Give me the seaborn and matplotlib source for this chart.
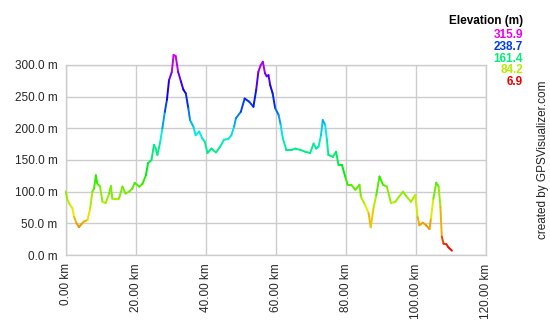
import colorsys
import numpy as np
import pandas as pd
import seaborn as sns
import matplotlib.pyplot as plt
from matplotlib.collections import LineCollection
from matplotlib.ticker import FuncFormatter

# Perfil de elevación
km = [0.0, 0.5, 1.2, 1.9, 2.4, 3.1, 3.8, 4.5, 5.2, 6.2, 7.0, 7.6, 8.1, 8.6, 9.0, 9.8,
      10.5, 11.4, 12.4, 12.9, 13.3, 14.3, 15.2, 16.2, 17.1, 18.1, 19.0, 19.7, 21.0,
      21.9, 22.9, 23.5, 24.5, 25.2, 25.7, 26.2, 27.0, 27.6, 28.3, 28.9, 29.5, 30.3,
      30.8, 31.4, 32.1, 32.9, 33.6, 34.3, 35.0, 35.5, 36.5, 37.1, 38.1, 39.0, 39.7,
      40.5, 41.6, 42.9, 44.1, 45.2, 46.4, 47.3, 48.1, 48.6, 50.0, 51.1, 52.4, 53.6,
      54.4, 55.0, 55.7, 56.3, 56.9, 57.4, 57.9, 58.4, 59.1, 59.8, 60.8, 61.4, 62.0,
      63.0, 64.6, 65.5, 67.0, 68.4, 69.8, 70.8, 71.5, 72.2, 72.9, 73.4, 74.1, 74.6,
      75.0, 76.3, 77.2, 77.9, 78.9, 79.8, 80.5, 81.5, 82.7, 83.9, 84.3, 85.5, 86.5,
      87.1, 87.9, 88.7, 89.6, 90.6, 91.7, 92.9, 94.1, 96.3, 97.4, 98.6, 99.8, 100.5,
      101.0, 102.0, 102.9, 103.9, 104.3, 105.0, 105.8, 106.5, 107.0, 107.4, 107.9,
      108.7, 109.3, 110.3]
elev = [100, 87, 79, 74, 60, 50, 44, 49, 53, 55, 74, 100, 105, 126, 113, 108,
        84, 82, 97, 109, 89, 88, 89, 108, 97, 100, 105, 114, 108,
        112, 126, 145, 150, 174, 168, 158, 179, 200, 226, 245, 276, 289,
        315.9, 314, 289, 274, 261, 255, 232, 213, 202, 189, 195, 184, 179,
        161, 168, 162, 171, 182, 183, 189, 203, 216, 226, 247, 242, 234,
        261, 289, 300, 305, 287, 282, 284, 268, 255, 232, 221, 205, 184,
        166, 166, 168, 166, 163, 161, 176, 168, 171, 189, 213, 205, 182,
        158, 155, 163, 142, 142, 124, 111, 111, 103, 111, 92, 79, 66,
        44, 74, 95, 124, 111, 108, 82, 84, 100, 92, 84, 95, 60,
        47, 51, 47, 41, 58, 89, 114, 108, 76, 29, 18,
        17, 12, 6.9]

leyenda = [315.9, 238.7, 161.4, 84.2, 6.9]
xticks = [0, 20, 40, 60, 80, 100, 120]
yticks = [0, 50, 100, 150, 200, 250, 300]

datos = pd.DataFrame({'km': km, 'elev': elev})
emin, emax = min(leyenda), max(leyenda)


def color_elev(e):
    # rojo -> amarillo -> verde -> azul -> magenta
    f = (e - emin) / (emax - emin)
    return colorsys.hsv_to_rgb(f * 300 / 360, 1.0, 0.93)


sns.set_style('white')
plt.rcParams['font.family'] = ['Liberation Sans', 'DejaVu Sans']

fig = plt.figure(figsize=(5.5, 3.2), dpi=100)
ax = fig.add_axes([0.1195, 0.203, 0.764, 0.594])

# Línea coloreada por elevación
puntos = datos[['km', 'elev']].to_numpy()
segs = np.stack([puntos[:-1], puntos[1:]], axis=1)
medias = (datos['elev'].to_numpy()[:-1] + datos['elev'].to_numpy()[1:]) / 2
lc = LineCollection(segs, colors=[color_elev(e) for e in medias],
                    linewidths=1.4, capstyle='round', clip_on=False, zorder=3)
ax.add_collection(lc)

ax.set_xlim(0, 120)
ax.set_ylim(0, 300)
ax.set_xticks(xticks)
ax.set_yticks(yticks)
ax.xaxis.set_major_formatter(FuncFormatter(lambda v, p: f'{v:.2f} km'))
ax.yaxis.set_major_formatter(FuncFormatter(lambda v, p: f'{v:.1f} m'))
ax.tick_params(axis='x', labelrotation=90, length=0, pad=6, labelsize=8.5)
ax.tick_params(axis='y', length=0, pad=6, labelsize=8.5)
ax.grid(True, color='#cccccc', linewidth=1)
for s in ax.spines.values():
    s.set_color('#cccccc')
    s.set_linewidth(1)

# Leyenda de elevación
fig.text(0.951, 0.933, 'Elevation (m)', ha='right', va='center',
         fontsize=8.5, fontweight='bold', color='black')
for i, v in enumerate(leyenda):
    fig.text(0.951, 0.890 - i * 0.0365, f'{v:.1f}', ha='right', va='center',
             fontsize=8.5, fontweight='bold', color=color_elev(v))

fig.text(0.988, 0.50, 'created by GPSVisualizer.com', rotation=90,
         ha='center', va='center', fontsize=8.5, color='#222222')

fig.savefig('out.png', dpi=100)
